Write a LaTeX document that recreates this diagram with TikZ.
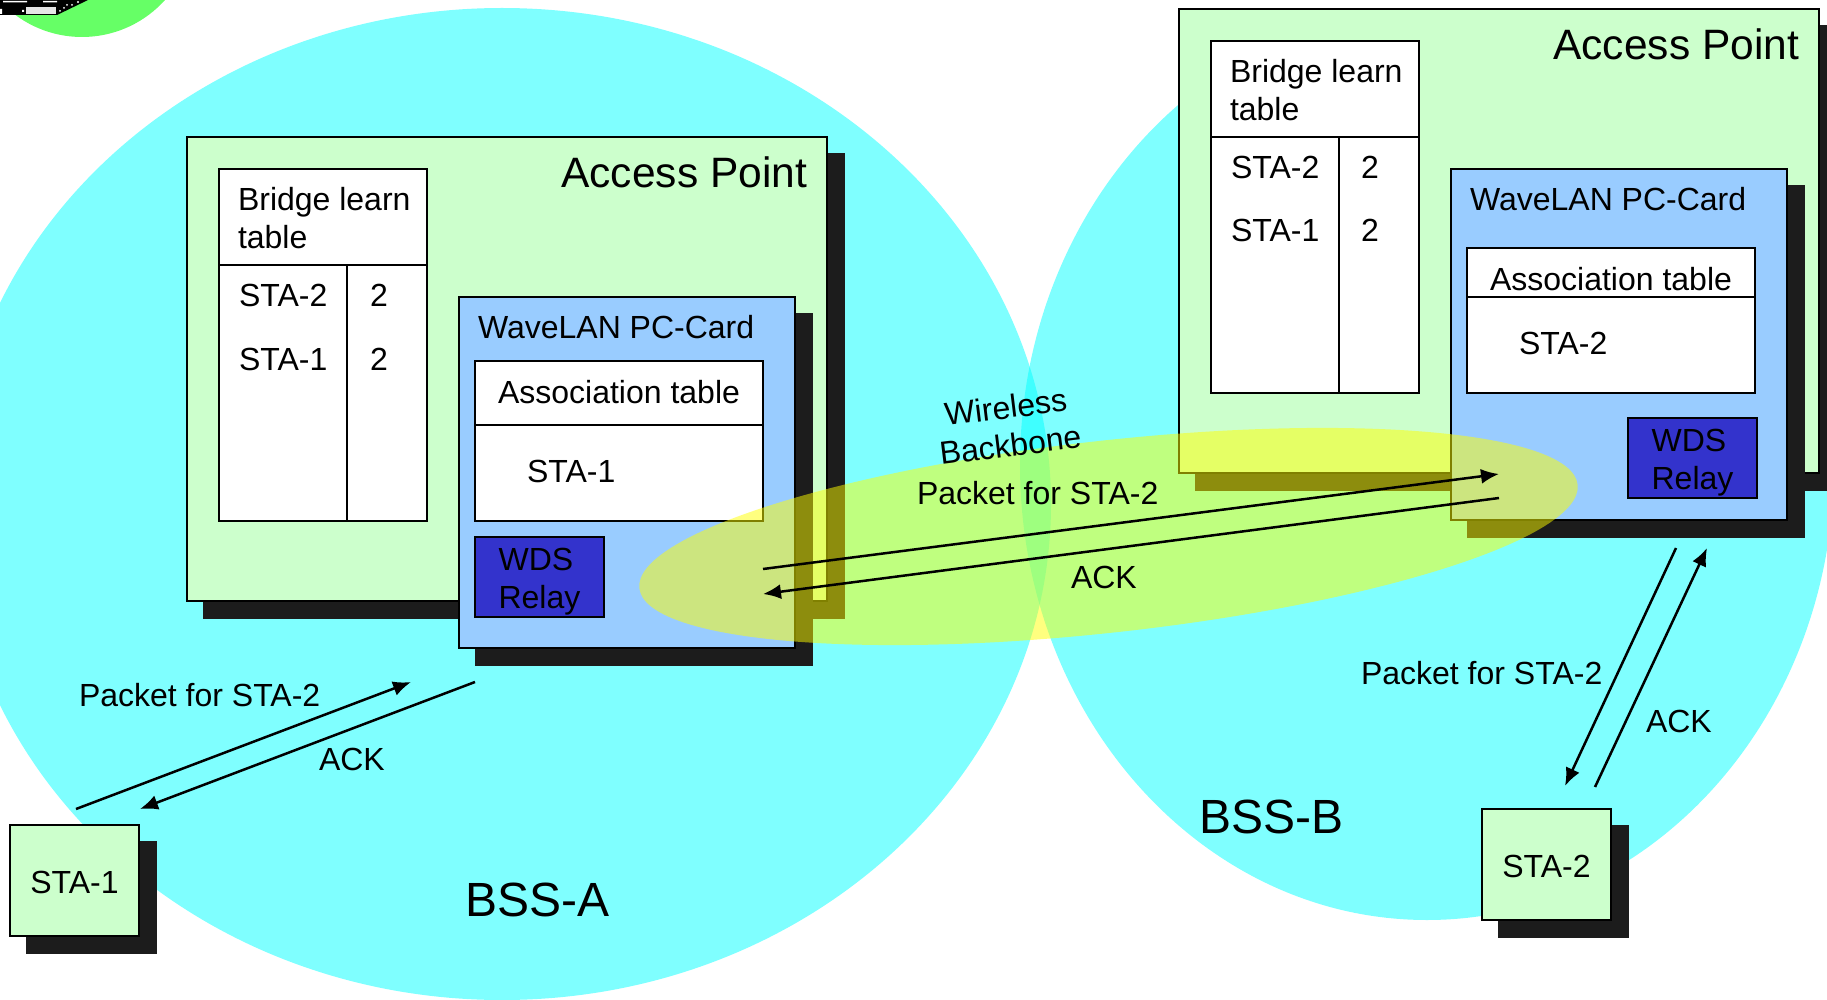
\documentclass[tikz,border=0pt]{standalone}
\usepackage{fontspec}
\setmainfont{Liberation Sans}
\usetikzlibrary{positioning,arrows.meta,shadows}

\definecolor{apgreen}{RGB}{204,255,204}
\definecolor{cardblue}{RGB}{153,204,255}
\definecolor{relayblue}{RGB}{51,51,204}
\definecolor{shadowgray}{RGB}{28,28,28}
\definecolor{bsscyan}{RGB}{0,255,255}
\definecolor{spotgreen}{RGB}{102,255,102}
\definecolor{spotyellow}{RGB}{255,255,0}

\begin{document}
\begin{tikzpicture}[x=1pt,y=1pt]
	\tikzset{
	    >={Latex[length=18pt,width=15pt]},
	    every node/.style={inner sep=0pt,outer sep=0pt,font=\fontsize{32}{38}\selectfont},
	    shadowed/.style={draw,line width=2pt,drop shadow={shadow xshift=17pt,shadow yshift=-17pt,draw=shadowgray,line width=2pt,fill=shadowgray,opacity=1}},
	    apbox/.style={shadowed,fill=apgreen,minimum width=640pt,anchor=north west},
	    cardbox/.style={shadowed,fill=cardblue,minimum width=336pt,minimum height=351pt},
	    tablebox/.style={draw,line width=2pt,fill=white},
	    relaybox/.style={draw,line width=2pt,fill=relayblue,minimum width=129pt,minimum height=80pt},
	    stabox/.style={shadowed,fill=apgreen,minimum width=129pt,minimum height=111pt,anchor=north west},
	    bigtext/.style={font=\fontsize{42.5}{42.5}\selectfont,anchor=base east},
	    bsstext/.style={font=\fontsize{48}{48}\selectfont,anchor=base west},
	    rowtext/.style={anchor=base west},
	    link/.style={line width=2.5pt}
	}

	\clip (0,0) rectangle (1827,-1000);

	% far corner
	\fill[spotgreen] (82,74.6) circle (111.6);
	\fill[black] (0,0) -- (88,0) -- (57,-15) -- (0,-15) -- cycle;
	\fill[white!90!black] (26,-7) rectangle (56,-14);
	\fill[white] (3,-1) rectangle (27,-2.5) (43,-1) rectangle (57,-2.5) (0,-9) rectangle (2,-14) (22,-10) rectangle (24,-12);
	\fill[white] (60,-11) circle (1) (64,-8) circle (1) (67,-5) circle (1) (72,-5) circle (1) (78,-2) circle (1.2);

	% cells
	\fill[bsscyan,fill opacity=.5] (502,-504) ellipse (549 and 496);
	\fill[bsscyan,fill opacity=.5] (1427,-465) ellipse (407 and 455);

	% left access point
	\node[apbox,minimum height=464pt] (apa) at (187,-137) {};
	\node[tablebox,below right=32pt and 32pt of apa.north west,minimum width=208pt,minimum height=352pt] (bridgea) {};
	\coordinate[below=96pt of bridgea.north west] (bridgeal);
	\coordinate[below=96pt of bridgea.north east] (bridgear);
	\coordinate[right=128pt of bridgeal] (bridgeat);
	\coordinate[right=128pt of bridgea.south west] (bridgeab);
	\draw[line width=2pt] (bridgeal) -- (bridgear);
	\draw[line width=2pt] (bridgeat) -- (bridgeab);
	\node[anchor=west,align=left] (bridgetexta) at (238,-218) {Bridge learn\\table};
	\node[rowtext] (rowa1) at (239,-306) {STA-2};
	\node[rowtext] (rowa2) at (239,-370) {STA-1};
	\node[rowtext] (numa1) at (370,-306) {2};
	\node[rowtext] (numa2) at (370,-370) {2};
	\node[bigtext] (aptexta) at (807,-188) {Access Point};

	\node[cardbox,below right=160pt and 272pt of apa.north west] (carda) {};
	\node[rowtext] (cardtexta) at (478,-338) {WaveLAN PC-Card};
	\node[tablebox,below right=64pt and 16pt of carda.north west,minimum width=288pt,minimum height=160pt] (assoca) {};
	\coordinate[below=64pt of assoca.north west] (assocal);
	\coordinate[below=64pt of assoca.north east] (assocar);
	\draw[line width=2pt] (assocal) -- (assocar);
	\node[anchor=base] (assoctexta) at (619,-403) {Association table};
	\node[rowtext] (assocrowa) at (527,-482) {STA-1};
	\node[relaybox,below right=240pt and 16pt of carda.north west] (relaya) {};
	\node[align=left] (relaytexta) at ([yshift=-5pt]relaya.center) {WDS\\Relay};

	% right access point
	\node[apbox,minimum height=464pt] (apb) at (1179,-9) {};
	\node[tablebox,below right=32pt and 32pt of apb.north west,minimum width=208pt,minimum height=352pt] (bridgeb) {};
	\coordinate[below=96pt of bridgeb.north west] (bridgebl);
	\coordinate[below=96pt of bridgeb.north east] (bridgebr);
	\coordinate[right=128pt of bridgebl] (bridgebt);
	\coordinate[right=128pt of bridgeb.south west] (bridgebb);
	\draw[line width=2pt] (bridgebl) -- (bridgebr);
	\draw[line width=2pt] (bridgebt) -- (bridgebb);
	\node[anchor=west,align=left] (bridgetextb) at (1230,-90) {Bridge learn\\table};
	\node[rowtext] (rowb1) at (1231,-179) {STA-2};
	\node[rowtext] (rowb2) at (1231,-242) {STA-1};
	\node[rowtext] (numb1) at (1361,-179) {2};
	\node[rowtext] (numb2) at (1361,-242) {2};
	\node[bigtext] (aptextb) at (1799,-60) {Access Point};

	\node[cardbox,below right=160pt and 272pt of apb.north west] (cardb) {};
	\node[rowtext] (cardtextb) at (1470,-211) {WaveLAN PC-Card};
	\node[tablebox,below right=79pt and 16pt of cardb.north west,minimum width=288pt,minimum height=145pt] (assocb) {};
	\coordinate[below=49pt of assocb.north west] (assocbl);
	\coordinate[below=49pt of assocb.north east] (assocbr);
	\draw[line width=2pt] (assocbl) -- (assocbr);
	\node[anchor=base] (assoctextb) at (1611,-290) {Association table};
	\node[rowtext] (assocrowb) at (1519,-354) {STA-2};
	\node[relaybox,below right=249pt and 177pt of cardb.north west] (relayb) {};
	\node[align=left] (relaytextb) at ([yshift=-5pt]relayb.center) {WDS\\Relay};

	% stations
	\node[stabox] (sta1) at (10,-825) {};
	\node (statext1) at ([yshift=-2pt]sta1.center) {STA-1};
	\node[stabox] (sta2) at (1482,-809) {};
	\node (statext2) at ([yshift=-2pt]sta2.center) {STA-2};

	% backbone spot
	\fill[spotyellow,fill opacity=.5,rotate around={6.3:(1108.5,-536.5)}] (1108.5,-536.5) ellipse (472 and 96);

	% arrow ends
	\coordinate (bone1) at (763,-569);
	\coordinate (bone2) at (1499,-474);
	\coordinate (bone3) at (1499,-498);
	\coordinate (bone4) at (763,-594);
	\coordinate (staa1) at (76,-809);
	\coordinate (staa2) at (411,-682);
	\coordinate (staa3) at (475,-682);
	\coordinate (staa4) at (140,-809);
	\coordinate (stab1) at (1676,-548);
	\coordinate (stab2) at (1565,-786);
	\coordinate (stab3) at (1595,-787);
	\coordinate (stab4) at (1707,-548);

	\draw[->,link] (bone1) -- (bone2);
	\draw[->,link] (bone3) -- (bone4);
	\draw[->,link] (staa1) -- (staa2);
	\draw[->,link] (staa3) -- (staa4);
	\draw[->,link] (stab1) -- (stab2);
	\draw[->,link] (stab3) -- (stab4);

	\node[rowtext] (packetlabela) at (79,-706) {Packet for STA-2};
	\node[rowtext] (acklabela) at (319,-770) {ACK};
	\node[rowtext] (packetlabelm) at (917,-504) {Packet for STA-2};
	\node[rowtext] (acklabelm) at (1071,-588) {ACK};
	\node[rowtext] (packetlabelb) at (1361,-684) {Packet for STA-2};
	\node[rowtext] (acklabelb) at (1646,-732) {ACK};
	\node[align=center,rotate=7] (backbonetext) at (1008,-426) {Wireless\\Backbone};

	\node[bsstext] (bsstexta) at (465,-916) {BSS-A};
	\node[bsstext] (bsstextb) at (1199,-833) {BSS-B};
\end{tikzpicture}
\end{document}
